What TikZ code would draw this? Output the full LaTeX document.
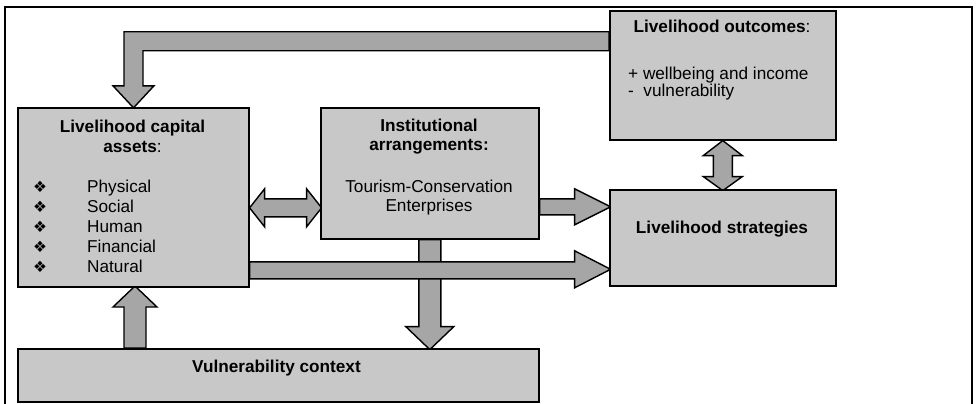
\documentclass[tikz,border=0pt]{standalone}
\usepackage{fontspec}
\setmainfont{Liberation Sans}
\newfontfamily\dingfont{DejaVu Sans}
\usetikzlibrary{calc}
\definecolor{boxgray}{RGB}{200,200,200}
\definecolor{arrowgray}{RGB}{166,166,166}
\pgfdeclarelayer{bg}
\pgfsetlayers{bg,main}
\begin{document}
\begin{tikzpicture}[x=1pt,y=-1pt,
  box/.style={draw=black, line width=1.6pt, fill=boxgray, anchor=north west, inner sep=0pt},
  blockarrow/.style={draw=black, line width=1.4pt, fill=arrowgray, line join=miter},
  txt/.style={inner sep=0pt, anchor=base, font=\fontsize{17.2}{20}\selectfont},
  bold/.style={inner sep=0pt, anchor=base, font=\fontsize{17.2}{20}\selectfont\bfseries},
  item/.style={inner sep=0pt, anchor=base west, font=\fontsize{17.2}{20}\selectfont},
  bul/.style={inner sep=0pt, anchor=base, font=\fontsize{15.5}{17}\dingfont}]
\useasboundingbox (0,0) rectangle (977,404);

% outer frame (its bottom edge lies below the page)
\draw[line width=2pt] (5,420) -- (5,7) -- (972,7) -- (972,420);

% boxes
\node[box, minimum width=231pt, minimum height=179pt] (cap)   at (17,107)  {};
\node[box, minimum width=218pt, minimum height=131pt] (inst)  at (320,107) {};
\node[box, minimum width=226pt, minimum height=129pt] (out)   at (609,10)  {};
\node[box, minimum width=226pt, minimum height=96pt]  (strat) at (609,189) {};
\node[box, minimum width=521pt, minimum height=53pt]  (vul)   at (17,348)  {};

% texts
\node[bold] (capT1) at (132.5,132) {Livelihood capital};
\node[bold] (capT2) at (132.5,152) {assets\mdseries:};
\foreach \t/\yy [count=\i] in {Physical/192,Social/212,Human/232,Financial/252,Natural/272}{
  \node[bul] (bul\i) at (40,\yy) {❖};
  \node[item] (it\i) at (87,\yy) {\t};
}
\node[bold] (instT1) at (429,131.5) {Institutional};
\node[bold] (instT2) at (429,150.5) {arrangements:};
\node[txt]  (instT3) at (429,192) {Tourism-Conservation};
\node[txt]  (instT4) at (429,211.5) {Enterprises};

\node[bold] (outT1) at (722,33) {Livelihood outcomes\mdseries:};
\node[item] (outT2) at (628,79) {+ wellbeing and income};
\node[item] (outT3) at (628,96.5) {-\ \ vulnerability};

\node[bold] (stratT) at (722,233) {Livelihood strategies};
\node[bold] (vulT) at (276.5,372.5) {Vulnerability context};

\begin{pgfonlayer}{bg}
% feedback from outcomes back to capital assets
\draw[blockarrow] ($(out.west)+(0,-43.5)$) -- ++(-485,0) -- ++(0,54) -- ++(-11,0)
  -- ++(20.5,22) -- ++(20.5,-22) -- ++(-11,0) -- ++(0,-35) -- ++(466,0) -- cycle;
% capital assets <-> institutional arrangements
\draw[blockarrow] ($(cap.east)+(0,10.5)$) -- ++(15,-19) -- ++(0,10) -- ++(42,0) -- ++(0,-10)
  -- ++(15,19) -- ++(-15,19) -- ++(0,-10) -- ++(-42,0) -- ++(0,10) -- cycle;
% institutional arrangements -> livelihood strategies
\draw[blockarrow] ($(inst.east)+(0,25.5)$) -- ++(35,0) -- ++(0,-10) -- ++(36,18)
  -- ++(-36,18) -- ++(0,-10) -- ++(-35,0) -- cycle;
% institutional arrangements -> vulnerability context
\draw[blockarrow] ($(inst.south)+(-11,0)$) -- ++(0,87) -- ++(-13,0) -- ++(24,23)
  -- ++(24,-23) -- ++(-13,0) -- ++(0,-87) -- cycle;
% capital assets -> livelihood strategies
\draw[blockarrow] ($(cap.east)+(0,64.5)$) -- ++(325,0) -- ++(0,-11) -- ++(36,18.5)
  -- ++(-36,18.5) -- ++(0,-9) -- ++(-325,0) -- cycle;
% vulnerability context -> capital assets
\draw[blockarrow] ($(vul.north west)+(107,0)$) -- ++(0,-41) -- ++(-11,0) -- ++(22,-21)
  -- ++(22,21) -- ++(-11,0) -- ++(0,41) -- cycle;
% outcomes <-> strategies
\draw[blockarrow] (out.south) -- ++(19.5,15) -- ++(-10,0) -- ++(0,21) -- ++(10,0)
  -- ++(-19.5,14) -- ++(-19.5,-14) -- ++(10,0) -- ++(0,-21) -- ++(-10,0) -- cycle;
\end{pgfonlayer}
\end{tikzpicture}
\end{document}
